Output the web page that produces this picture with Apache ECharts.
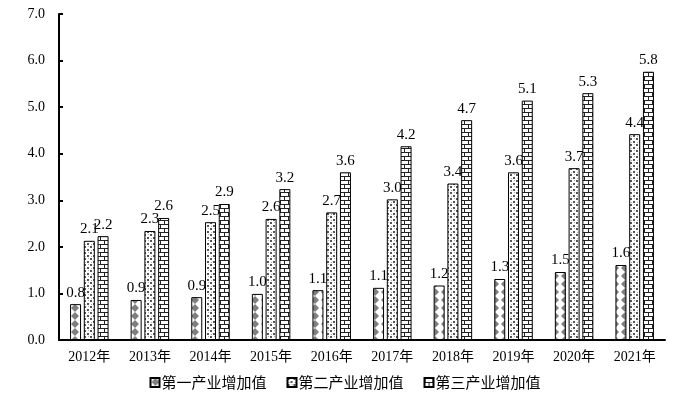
<!DOCTYPE html>
<html>
<head>
<meta charset="utf-8">
<script src="https://cdn.jsdelivr.net/npm/echarts@6/dist/echarts.min.js"></script>
<style>
  html, body { margin: 0; padding: 0; background: #fff; }
  #chart { width: 690px; height: 403px; }
</style>
</head>
<body>
<div id="chart"></div>
<script>
  // 年份
  var years = ['2012年', '2013年', '2014年', '2015年', '2016年', '2017年', '2018年', '2019年', '2020年', '2021年'];
  // 第一产业增加值
  var primary = [0.77, 0.86, 0.92, 0.99, 1.07, 1.12, 1.17, 1.31, 1.46, 1.61];
  // 第二产业增加值
  var secondary = [2.13, 2.34, 2.53, 2.6, 2.74, 3.02, 3.36, 3.6, 3.69, 4.42];
  // 第三产业增加值
  var tertiary = [2.23, 2.62, 2.92, 3.24, 3.6, 4.16, 4.72, 5.14, 5.3, 5.76];
  var names = ['第一产业增加值', '第二产业增加值', '第三产业增加值'];

  // 填充图案
  function makeTile(w, h, draw) {
    var c = document.createElement('canvas');
    c.width = w; c.height = h;
    var ctx = c.getContext('2d');
    ctx.fillStyle = '#fff';
    ctx.fillRect(0, 0, w, h);
    draw(ctx);
    return c;
  }
  var diamondTile = makeTile(10, 8, function (ctx) {
    ctx.fillStyle = '#7f7f7f';
    ctx.beginPath();
    ctx.moveTo(5, 0); ctx.lineTo(9, 4); ctx.lineTo(5, 8); ctx.lineTo(1, 4);
    ctx.closePath();
    ctx.fill();
  });
  var dotTile = makeTile(6, 6, function (ctx) {
    ctx.fillStyle = '#555';
    ctx.fillRect(0, 0, 2, 2);
    ctx.fillRect(3, 3, 2, 2);
    ctx.fillStyle = '#aaa';
    ctx.fillRect(4, 0, 1, 1);
    ctx.fillRect(1, 4, 1, 1);
  });
  var brickTile = makeTile(8, 8, function (ctx) {
    ctx.fillStyle = '#222';
    ctx.fillRect(0, 0, 8, 1);
    ctx.fillRect(0, 4, 8, 1);
    ctx.fillRect(0, 0, 1, 4);
    ctx.fillRect(4, 4, 1, 4);
  });

  function pattern(tile) {
    return { image: tile, repeat: 'repeat' };
  }

  function barSeries(name, values, tile) {
    return {
      name: name,
      type: 'bar',
      data: values,
      barWidth: 11,
      barGap: '25%',
      itemStyle: { color: pattern(tile), borderColor: '#000', borderWidth: 1 },
      label: {
        show: true,
        position: 'top',
        distance: 4,
        color: '#000',
        fontFamily: 'Liberation Serif',
        fontSize: 15,
        formatter: function (p) { return p.value.toFixed(1); }
      }
    };
  }

  var chart = echarts.init(document.getElementById('chart'));
  chart.setOption({
    animation: false,
    backgroundColor: '#fff',
    grid: { left: 59, right: 25, top: 14, bottom: 63 },
    legend: {
      bottom: 8,
      left: 'center',
      itemWidth: 9,
      itemHeight: 9,
      itemGap: 20,
      icon: 'rect',
      textStyle: { fontFamily: 'Noto Sans CJK SC', fontSize: 15, color: '#000', padding: [0, 0, 0, -3] },
      data: names
    },
    xAxis: {
      type: 'category',
      data: years,
      axisLine: { lineStyle: { color: '#000', width: 2 } },
      axisTick: { show: false },
      axisLabel: { color: '#000', fontFamily: 'Liberation Serif, Noto Sans CJK SC', fontSize: 14, margin: 10 }
    },
    yAxis: {
      type: 'value',
      min: 0,
      max: 7,
      interval: 1,
      splitLine: { show: false },
      axisLine: { show: true, lineStyle: { color: '#000', width: 2 } },
      axisTick: { show: true, inside: true, length: 4, lineStyle: { color: '#000', width: 2 } },
      axisLabel: {
        color: '#000',
        fontFamily: 'Liberation Serif',
        fontSize: 14,
        margin: 14,
        formatter: function (v) { return v.toFixed(1); }
      }
    },
    series: [
      barSeries(names[0], primary, diamondTile),
      barSeries(names[1], secondary, dotTile),
      barSeries(names[2], tertiary, brickTile)
    ]
  });
</script>
</body>
</html>
